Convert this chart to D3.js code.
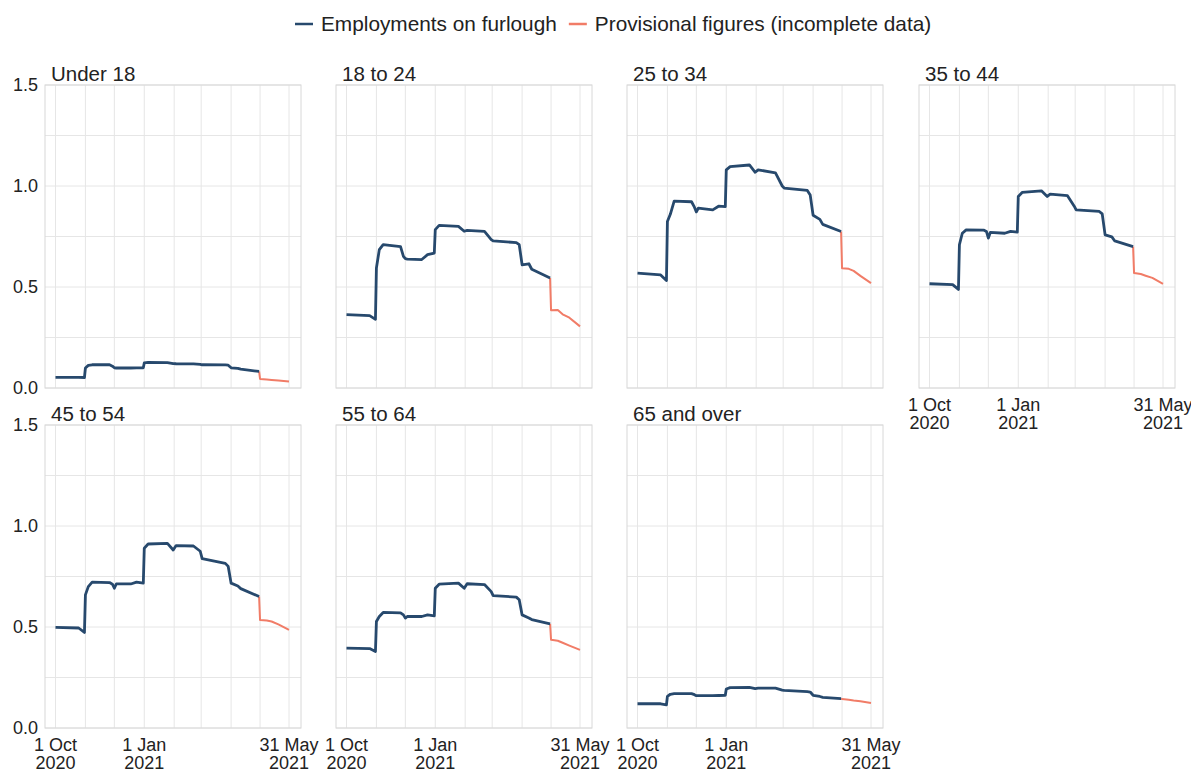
<!DOCTYPE html>
<html>
<head>
<meta charset="utf-8">
<script src="https://cdn.jsdelivr.net/npm/d3@7"></script>
<style>
  html, body { margin: 0; padding: 0; background: #fff; }
  svg { display: block; font-family: "Liberation Sans", Arial, sans-serif; }
</style>
</head>
<body>
<svg id="chart" width="1191" height="771"></svg>
<script>
// ---- Data (millions of employments on furlough) ----
const panels = ["Under 18", "18 to 24", "25 to 34", "35 to 44", "45 to 54", "55 to 64", "65 and over"];

const dates = [
  "2020-10-01", "2020-10-25", "2020-10-31", "2020-11-01", "2020-11-04", "2020-11-08",
  "2020-11-26", "2020-11-29", "2020-12-01", "2020-12-03", "2020-12-18", "2020-12-24",
  "2020-12-31", "2021-01-01", "2021-01-05", "2021-01-25", "2021-01-31", "2021-02-03",
  "2021-02-21", "2021-02-28", "2021-03-02", "2021-03-26", "2021-03-29", "2021-04-01",
  "2021-04-08", "2021-04-11", "2021-04-30"
];
const provDates = ["2021-04-30", "2021-05-01", "2021-05-08", "2021-05-13", "2021-05-20", "2021-05-31"];

const under18 = [0.053, 0.053, 0.052, 0.099, 0.112, 0.115, 0.115, 0.108, 0.100, 0.099, 0.099, 0.100, 0.100,
  0.124, 0.127, 0.126, 0.121, 0.120, 0.119, 0.117, 0.115, 0.114, 0.113, 0.100, 0.097, 0.093, 0.082];
const age18to24 = [0.363, 0.358, 0.340, 0.594, 0.685, 0.710, 0.700, 0.652, 0.640, 0.638, 0.636, 0.660, 0.668,
  0.784, 0.805, 0.800, 0.776, 0.780, 0.775, 0.735, 0.728, 0.720, 0.710, 0.610, 0.615, 0.588, 0.545];
const age25to34 = [0.569, 0.560, 0.532, 0.824, 0.860, 0.925, 0.922, 0.895, 0.872, 0.890, 0.882, 0.900, 0.898,
  1.080, 1.096, 1.104, 1.068, 1.080, 1.065, 1.000, 0.990, 0.978, 0.955, 0.855, 0.835, 0.810, 0.775];
const age35to44 = [0.516, 0.512, 0.488, 0.709, 0.766, 0.783, 0.782, 0.775, 0.742, 0.770, 0.766, 0.775, 0.772,
  0.948, 0.968, 0.976, 0.948, 0.960, 0.952, 0.900, 0.882, 0.874, 0.862, 0.758, 0.748, 0.728, 0.700];
const age45to54 = [0.498, 0.495, 0.473, 0.659, 0.700, 0.722, 0.720, 0.712, 0.692, 0.713, 0.713, 0.722, 0.717,
  0.890, 0.911, 0.914, 0.881, 0.903, 0.901, 0.875, 0.838, 0.815, 0.800, 0.717, 0.703, 0.690, 0.651];
const age55to64 = [0.395, 0.393, 0.379, 0.527, 0.552, 0.572, 0.570, 0.560, 0.544, 0.552, 0.552, 0.560, 0.555,
  0.692, 0.712, 0.717, 0.692, 0.714, 0.710, 0.675, 0.655, 0.648, 0.635, 0.560, 0.545, 0.537, 0.516];
const age65plus = [0.120, 0.120, 0.115, 0.157, 0.167, 0.170, 0.170, 0.165, 0.160, 0.160, 0.160, 0.161, 0.162,
  0.193, 0.200, 0.201, 0.195, 0.197, 0.197, 0.188, 0.186, 0.180, 0.178, 0.162, 0.156, 0.152, 0.145];

const provUnder18 = [0.082, 0.045, 0.042, 0.040, 0.037, 0.032];
const prov18to24 = [0.545, 0.385, 0.386, 0.365, 0.348, 0.305];
const prov25to34 = [0.775, 0.593, 0.590, 0.580, 0.555, 0.519];
const prov35to44 = [0.700, 0.569, 0.564, 0.556, 0.545, 0.516];
const prov45to54 = [0.651, 0.535, 0.532, 0.527, 0.513, 0.486];
const prov55to64 = [0.516, 0.437, 0.432, 0.422, 0.408, 0.387];
const prov65plus = [0.145, 0.143, 0.140, 0.136, 0.132, 0.124];

const mainSeries = [under18, age18to24, age25to34, age35to44, age45to54, age55to64, age65plus];
const provSeries = [provUnder18, prov18to24, prov25to34, prov35to44, prov45to54, prov55to64, prov65plus];

const yTicks = [0, 0.5, 1.0, 1.5];
const yGrid = [0, 0.25, 0.5, 0.75, 1.0, 1.25, 1.5];
const gridDates = ["2020-10-01", "2020-11-01", "2020-12-01", "2021-01-01", "2021-02-01",
  "2021-03-01", "2021-04-01", "2021-05-01", "2021-05-31"];
const xTickDates = ["2020-10-01", "2021-01-01", "2021-05-31"];
const xTickLabels = [["1 Oct", "2020"], ["1 Jan", "2021"], ["31 May", "2021"]];
const legendItems = ["Employments on furlough", "Provisional figures (incomplete data)"];

// ---- Layout ----
const COLORS = { main: "#27496d", prov: "#f17c67", grid: "#e6e6e6", border: "#d8d8d8", text: "#222" };
const colLeft = [45, 336, 627, 919];
const rowTop = [85, 425];
const pw = 256, ph = 303;

const parse = d3.timeParse("%Y-%m-%d");
const svg = d3.select("#chart");

// Legend
const leg = svg.append("g").attr("transform", "translate(295,0)");
let lx = 0;
legendItems.forEach((label, i) => {
  leg.append("line").attr("x1", lx).attr("x2", lx + 18).attr("y1", 24).attr("y2", 24)
    .attr("stroke", i === 0 ? COLORS.main : COLORS.prov).attr("stroke-width", 2.5);
  const t = leg.append("text").attr("x", lx + 26).attr("y", 31).attr("font-size", 20.8)
    .attr("fill", COLORS.text).text(label);
  lx += 26 + t.node().getComputedTextLength() + 12;
});

panels.forEach((name, i) => {
  const col = i % 4, row = Math.floor(i / 4);
  const left = colLeft[col], top = rowTop[row];
  const g = svg.append("g").attr("transform", `translate(${left},${top})`);

  const x = d3.scaleTime().domain([parse("2020-10-01"), parse("2021-05-31")]).range([10.5, 244]);
  const y = d3.scaleLinear().domain([0, 1.5]).range([ph, 0]);

  // grid
  g.selectAll(".hg").data(yGrid).join("line")
    .attr("x1", 0).attr("x2", pw).attr("y1", d => y(d)).attr("y2", d => y(d))
    .attr("stroke", COLORS.grid).attr("stroke-width", 1);
  g.selectAll(".vg").data(gridDates).join("line")
    .attr("x1", d => x(parse(d))).attr("x2", d => x(parse(d))).attr("y1", 0).attr("y2", ph)
    .attr("stroke", COLORS.grid).attr("stroke-width", 1);
  g.append("rect").attr("x", 0).attr("y", 0).attr("width", pw).attr("height", ph)
    .attr("fill", "none").attr("stroke", COLORS.border).attr("stroke-width", 1);

  // title
  g.append("text").attr("x", 6).attr("y", -4).attr("font-size", 20.5).attr("fill", COLORS.text).text(name);

  // y axis labels (left column)
  if (col === 0) {
    g.selectAll(".yl").data(yTicks).join("text")
      .attr("x", -7).attr("y", d => y(d)).attr("dy", "0.35em").attr("text-anchor", "end")
      .attr("font-size", 18).attr("fill", COLORS.text).text(d => d.toFixed(1));
  }
  // x axis labels (bottom panel of each column)
  const isBottom = (row === 1) || (row === 0 && col === 3);
  if (isBottom) {
    xTickDates.forEach((d, k) => {
      const t = g.append("text").attr("x", x(parse(d))).attr("text-anchor", "middle")
        .attr("font-size", 18).attr("fill", COLORS.text);
      t.append("tspan").attr("x", x(parse(d))).attr("y", ph + 23).text(xTickLabels[k][0]);
      t.append("tspan").attr("x", x(parse(d))).attr("y", ph + 41).text(xTickLabels[k][1]);
    });
  }

  const line = d3.line().x(d => x(d[0])).y(d => y(d[1]));
  const mainData = dates.map((d, k) => [parse(d), mainSeries[i][k]]);
  const provData = provDates.map((d, k) => [parse(d), provSeries[i][k]]);

  g.append("path").datum(provData).attr("d", line).attr("fill", "none")
    .attr("stroke", COLORS.prov).attr("stroke-width", 2).attr("stroke-linejoin", "round");
  g.append("path").datum(mainData).attr("d", line).attr("fill", "none")
    .attr("stroke", COLORS.main).attr("stroke-width", 2.8).attr("stroke-linejoin", "round");
});
</script>
</body>
</html>
